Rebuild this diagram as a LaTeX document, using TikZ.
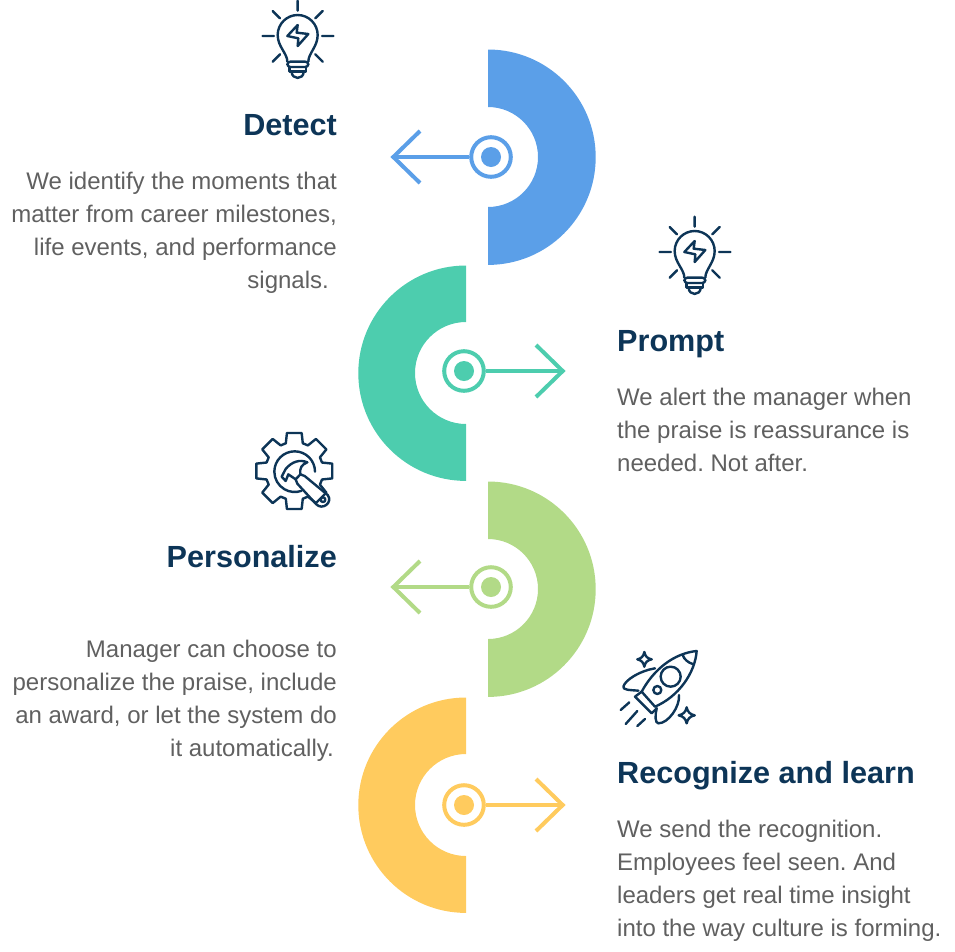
\documentclass[tikz,border=0pt]{standalone}
\usepackage{fontspec}
\setmainfont{Liberation Sans}
\frenchspacing
\definecolor{cblue}{HTML}{5B9FE8}
\definecolor{cteal}{HTML}{4DCDAE}
\definecolor{clime}{HTML}{B2DA87}
\definecolor{cyel}{HTML}{FFCB5E}
\definecolor{cdark}{HTML}{0D3557}
\definecolor{cgrey}{HTML}{606060}
\tikzset{
  ttl/.style={font=\bfseries\fontsize{30.6}{36}\selectfont,text=cdark,inner sep=0pt},
  bodyl/.style={font=\fontsize{24}{33}\selectfont,text=cgrey,inner sep=0pt,align=left,anchor=north west},
  bodyr/.style={font=\fontsize{24}{33}\selectfont,text=cgrey,inner sep=0pt,align=right,anchor=north east},
  ringn/.style={circle,draw=#1,line width=4pt,minimum size=39.6pt,inner sep=0pt},
  dotn/.style={circle,fill=#1,minimum size=20pt,inner sep=0pt},
  arrowl/.style={draw=#1,line width=4pt},
  ico/.style={draw=cdark,line width=2.4pt,line join=round,line cap=round},
  bulb/.pic={
    \begin{scope}[scale=1/3,yscale=-1,ico]
      \draw (143,2)--(143,32) (38,108)--(72,108) (216,108)--(250,108)
            (68,33)--(90,55) (218,33)--(196,55) (68,185)--(90,163) (218,185)--(196,163);
      \draw (112,185) .. controls (112,160) and (83,140) .. (83,105)
            .. controls (83,72) and (110,45) .. (143,45)
            .. controls (176,45) and (203,72) .. (203,105)
            .. controls (203,140) and (175,160) .. (175,185);
      \draw (112,108)--(143,75)--(140,98)--(175,102)--(143,138)--(145,115)--cycle;
      \draw[rounded corners=3pt] (112,185) rectangle (175,201);
      \draw (118,201)--(118,215)--(168,215)--(168,201);
      \draw (125,215) .. controls (125,240) and (161,240) .. (161,215);
    \end{scope}
  },
}
\begin{document}
\begin{tikzpicture}[x=1pt,y=1pt,yscale=-1]
\useasboundingbox (0,0) rectangle (955,951);
% half rings
\fill[cblue] (488,49.5) arc[start angle=-90,end angle=90,radius=107.7] -- (488,207) arc[start angle=90,end angle=-90,radius=50] -- cycle;
\fill[cteal] (466,265.5) arc[start angle=270,end angle=90,radius=107.7] -- (466,424) arc[start angle=90,end angle=270,radius=51] -- cycle;
\fill[clime] (488,481.5) arc[start angle=-90,end angle=90,radius=107.7] -- (488,639) arc[start angle=90,end angle=-90,radius=50] -- cycle;
\fill[cyel] (466,697.5) arc[start angle=270,end angle=90,radius=107.7] -- (466,856) arc[start angle=90,end angle=270,radius=51] -- cycle;
% targets
\node[ringn=cblue] (r1) at (491,157) {}; \node[dotn=cblue] (d1) at (491,157) {};
\node[ringn=cteal] (r2) at (464,371) {}; \node[dotn=cteal] (d2) at (464,371) {};
\node[ringn=clime] (r3) at (491,587) {}; \node[dotn=clime] (d3) at (491,587) {};
\node[ringn=cyel] (r4) at (464,805) {}; \node[dotn=cyel] (d4) at (464,805) {};
% arrows
\coordinate (t1) at (393.3,157); \coordinate (a1) at (420,131); \coordinate (b1) at (420,183);
\coordinate (t2) at (562.7,371); \coordinate (a2) at (536,345); \coordinate (b2) at (536,397);
\coordinate (t3) at (393.3,587); \coordinate (a3) at (420,561); \coordinate (b3) at (420,613);
\coordinate (t4) at (562.7,805); \coordinate (a4) at (536,779); \coordinate (b4) at (536,831);
\draw[arrowl=cblue] (r1)--(t1); \draw[arrowl=cblue] (a1)--(t1)--(b1);
\draw[arrowl=cteal] (r2)--(t2); \draw[arrowl=cteal] (a2)--(t2)--(b2);
\draw[arrowl=clime] (r3)--(t3); \draw[arrowl=clime] (a3)--(t3)--(b3);
\draw[arrowl=cyel] (r4)--(t4); \draw[arrowl=cyel] (a4)--(t4)--(b4);
% titles
\node[ttl,anchor=base east] (h1) at (337,135) {Detect};
\node[ttl,anchor=base west] (h2) at (617,351) {Prompt};
\node[ttl,anchor=base east] (h3) at (337,567) {Personalize};
\node[ttl,anchor=base west] (h4) at (617,783) {Recognize and learn};
% body
\node[bodyr] (p1) at (337,172) {We identify the moments that\\matter from career milestones,\\life events, and performance\\signals.\hspace*{8pt}};
\node[bodyl] (p2) at (617,388) {We alert the manager when\\the praise is reassurance is\\needed. Not after.};
\node[bodyr] (p3) at (337,640) {Manager can choose to\\personalize the praise, include\\an award, or let the system do\\it automatically.\hspace*{3pt}};
\node[bodyl] (p4) at (617,820) {We send the recognition.\\Employees feel seen. And\\leaders get real time insight\\into the way culture is forming.};
% bulbs
\path (250,0) pic {bulb};
\path (647,216) pic {bulb};
% gear
\begin{scope}[shift={(294.3,471)},ico]
  \draw (-17:29) \foreach \a in {0,45,...,315} { -- (\a-17:29) -- (\a-11:38.7) -- (\a+11:38.7) -- (\a+17:29) } -- cycle;
\end{scope}
\begin{scope}[shift={(265,445)},scale=1/3,ico]
  \draw (150,80) arc[start angle=0,end angle=-290,radius=61];
  \draw (50,95)--(62,72) .. controls (80,50) and (105,42) .. (127,52)
        .. controls (110,58) and (103,70) .. (106,88)--(92,103)--(70,88)--(62,108)--cycle;
  \draw (106,88)--(119,93)--(188,150) .. controls (205,172) and (172,198) .. (153,177)--(97,116)--(92,103);
  \draw (174,164) circle[radius=7];
\end{scope}
% rocket
\begin{scope}[shift={(610,640)},scale=1/3,ico]
  \draw (260,33) .. controls (190,40) and (130,90) .. (95,155)--(135,200)
        .. controls (205,170) and (255,100) .. (260,33)--cycle;
  \draw (218,45) .. controls (222,58) and (235,68) .. (248,72);
  \draw (182,110) circle[radius=30];
  \draw (142,150) circle[radius=12];
  \draw (95,155)--(75,170)--(125,220)--(140,205);
  \draw (135,85) .. controls (90,92) and (45,120) .. (40,140) .. controls (38,150) and (60,150) .. (85,152);
  \draw (207,165) .. controls (210,200) and (175,250) .. (145,250) .. controls (135,250) and (135,225) .. (140,205);
  \draw (103,36) .. controls (106,50) and (112,55) .. (125,58) .. controls (112,61) and (106,66) .. (103,80)
        .. controls (100,66) and (94,61) .. (82,58) .. controls (94,55) and (100,50) .. (103,36)--cycle;
  \draw (230,202) .. controls (233,216) and (240,223) .. (254,226) .. controls (240,229) and (233,236) .. (230,250)
        .. controls (227,236) and (220,229) .. (206,226) .. controls (220,223) and (227,216) .. (230,202)--cycle;
  \draw (32,210)--(58,187) (47,252)--(82,213) (82,258)--(105,237);
\end{scope}
\end{tikzpicture}
\end{document}
